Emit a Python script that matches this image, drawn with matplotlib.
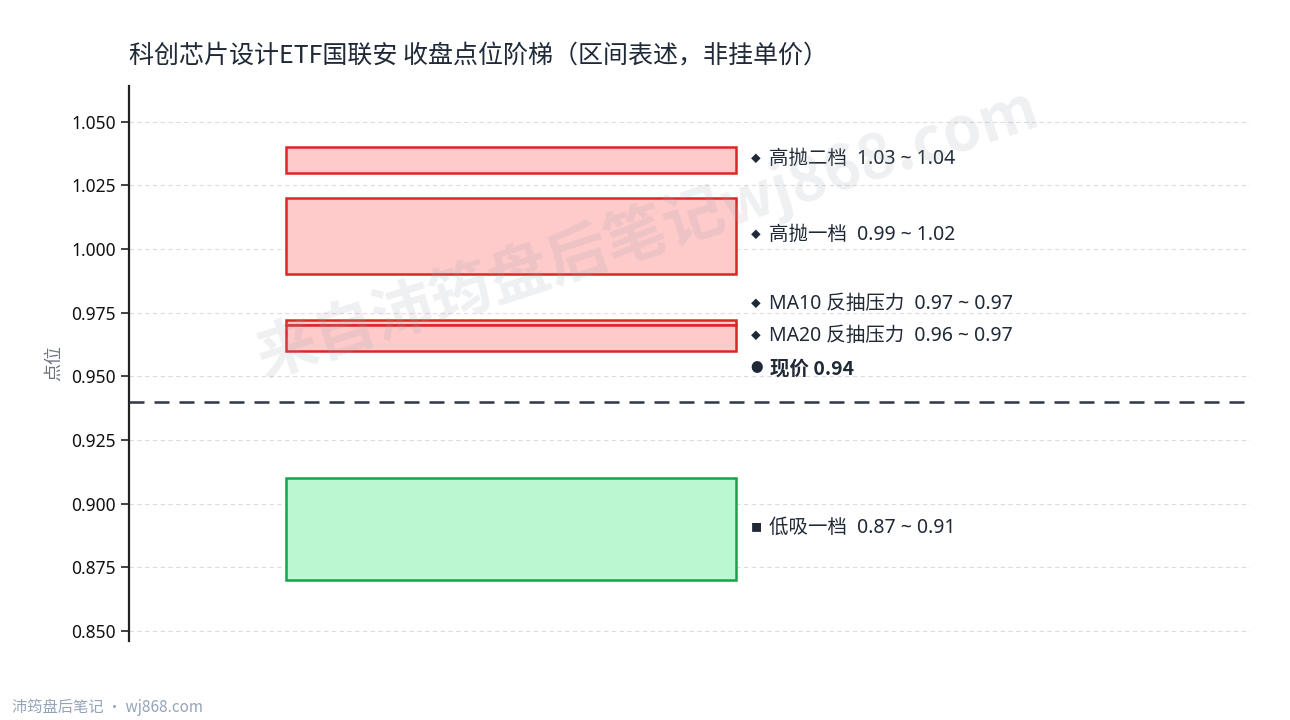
import matplotlib
matplotlib.use("Agg")
import matplotlib.pyplot as plt
from matplotlib.patches import Rectangle

plt.rcParams['font.family'] = ['Noto Sans CJK SC', 'DejaVu Sans']
LAT = ['Noto Sans', 'Noto Sans CJK SC', 'DejaVu Sans']

# ---- data ----
zone_names = ["高抛二档", "高抛一档", "MA10 反抽压力", "MA20 反抽压力", "低吸一档"]
zone_low = [1.03, 0.99, 0.970, 0.96, 0.87]
zone_high = [1.04, 1.02, 0.972, 0.97, 0.91]
zone_kind = ["sell", "sell", "sell", "sell", "buy"]
zone_marker = ["◆", "◆", "◆", "◆", "■"]
label_y = [1.0355, 1.0055, 0.9785, 0.966, 0.8905]
current_price = 0.94
current_label_y = 0.953
yticks = [0.850, 0.875, 0.900, 0.925, 0.950, 0.975, 1.000, 1.025, 1.050]
title = "科创芯片设计ETF国联安 收盘点位阶梯（区间表述，非挂单价）"

fig = plt.figure(figsize=(12.9, 7.2), dpi=100)
ax = fig.add_axes([0.1, 0.1097, 0.869, 0.7709])
ax.set_xlim(0, 1)
ax.set_ylim(0.846, 1.064)

styles = {"sell": ("#fecaca", "#dc2626"), "buy": ("#bbf7d0", "#16a34a")}
x0, x1 = 0.14, 0.5415
for name, lo, hi, kind, mk, ly in zip(zone_names, zone_low, zone_high, zone_kind, zone_marker, label_y):
    fc, ec = styles[kind]
    ax.add_patch(Rectangle((x0, lo), x1 - x0, hi - lo, facecolor=fc, edgecolor=ec,
                           linewidth=1.8, zorder=3))
    ax.text(0.5595, ly, mk, fontsize=7 if mk == "◆" else 8, color="#1f2937",
            va="center", ha="center", zorder=5)
    ax.text(0.571, ly, f"{name}  {lo:.2f} ~ {hi:.2f}", fontsize=14, color="#1f2937",
            va="center", ha="left", zorder=5, family=LAT)

ax.axhline(current_price, color="#2d3748", linewidth=1.8, dashes=(6, 4), zorder=4)
ax.text(0.5595, current_label_y, "●", fontsize=9, color="#1f2937", va="center", ha="center", zorder=5)
ax.text(0.572, current_label_y, f"现价 {current_price:.2f}", fontsize=14, fontweight="bold",
        color="#1f2937", va="center", ha="left", zorder=5)

ax.set_yticks(yticks)
ax.set_yticklabels([f"{v:.3f}" for v in yticks], fontsize=12.5, color="#111111", family=LAT)
ax.set_xticks([])
ax.tick_params(axis="y", length=6, width=1.2, color="#222222")
ax.grid(axis="y", linestyle=(0, (4, 3)), color="#dddddd", linewidth=0.8, zorder=0)
ax.set_axisbelow(True)
for s in ["top", "right", "bottom"]:
    ax.spines[s].set_visible(False)
ax.spines["left"].set_linewidth(1.6)
ax.spines["left"].set_color("#222222")
ax.set_ylabel("点位", fontsize=13, color="#6b7280", labelpad=6)

fig.text(0.1, 0.921, title, fontsize=18, color="#1f2937", ha="left", va="center")
fig.text(0.502, 0.677, "来自沛筠盘后笔记wj868.com", fontsize=44, fontweight="bold",
         color="#9ca3af", alpha=0.16, rotation=18, ha="center", va="center", zorder=10)
fig.text(0.009, 0.018, "沛筠盘后笔记 · wj868.com", fontsize=11, color="#94a3b8",
         ha="left", va="center")

fig.savefig("out.png", dpi=100)
